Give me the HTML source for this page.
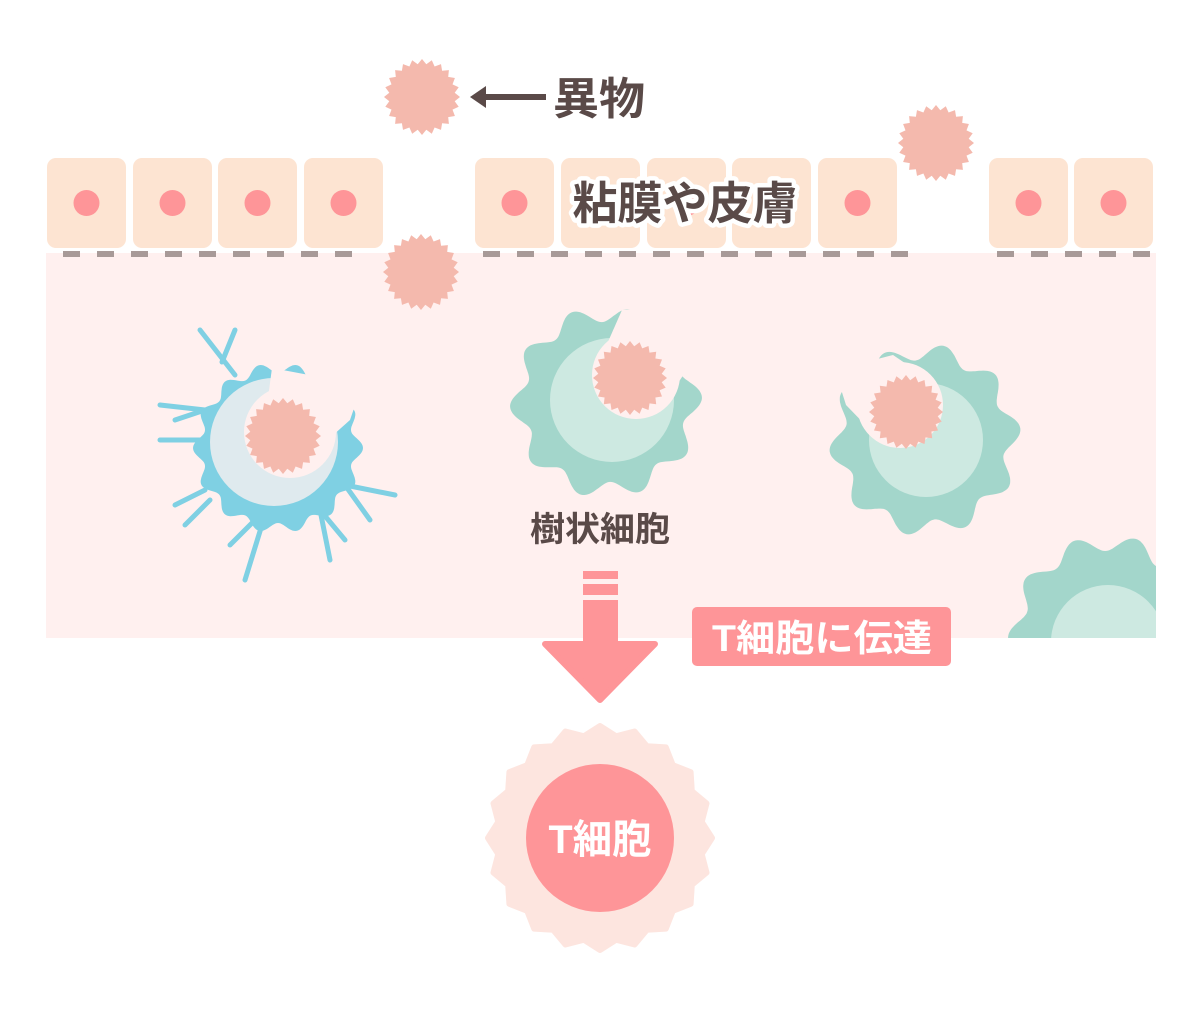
<!DOCTYPE html>
<html><head><meta charset="utf-8"><style>
html,body{margin:0;padding:0;background:#fff;}
svg{display:block;}
text{font-family:"Liberation Sans","Noto Sans CJK JP",sans-serif;font-weight:bold;}
</style></head><body>
<svg id="s" width="1200" height="1012" viewBox="0 0 1200 1012" xmlns="http://www.w3.org/2000/svg">
<rect x="46" y="253" width="1110" height="385" fill="#fff0ef"/>
<g id="cells"></g>
<g id="dyn"></g>
<line x1="482" y1="97" x2="546" y2="97" stroke="#5a4a48" stroke-width="6"/>
<polygon points="470,97 486,86 486,108" fill="#5a4a48"/>
<text x="553" y="114" font-size="44" fill="#5a4a48" textLength="92" lengthAdjust="spacingAndGlyphs">異物</text>
<text x="685" y="219" font-size="45" text-anchor="middle" fill="#5a4a48" stroke="#fff" stroke-width="9" paint-order="stroke" stroke-linejoin="round" textLength="225" lengthAdjust="spacingAndGlyphs">粘膜や皮膚</text>
<text x="600" y="541" font-size="34" text-anchor="middle" fill="#5a4a48" textLength="140" lengthAdjust="spacingAndGlyphs">樹状細胞</text>
<rect x="583" y="571" width="35" height="8" fill="#fe9598"/>
<rect x="583" y="584" width="35" height="11" fill="#fe9598"/>
<rect x="583" y="600" width="35" height="45" fill="#fe9598"/>
<polygon points="545,644 655,644 600,700" fill="#fe9598" stroke="#fe9598" stroke-width="6" stroke-linejoin="round"/>
<rect x="692" y="607" width="259" height="59" rx="5" fill="#fe9598"/>
<text x="822" y="651" font-size="37" text-anchor="middle" fill="#fff" textLength="220" lengthAdjust="spacingAndGlyphs">T細胞に伝達</text>
<g id="tcell"></g>
<text x="600" y="853" font-size="40" text-anchor="middle" fill="#fff" textLength="103" lengthAdjust="spacingAndGlyphs">T細胞</text>
</svg>
<script>
const NS="http://www.w3.org/2000/svg";
function el(p,t,a){const e=document.createElementNS(NS,t);for(const k in a)e.setAttribute(k,a[k]);p.appendChild(e);return e;}
const cells=document.getElementById('cells');
[47,133,218,304,475,561,647,732,818,989,1074].forEach(x=>{
 el(cells,'rect',{x:x,y:158,width:79,height:90,rx:9,fill:'#fde4d2'});
 el(cells,'circle',{cx:x+39.5,cy:203,r:13,fill:'#fe9598'});
});
[[63,360],[483,910],[997,1150]].forEach(([a,b])=>{
 for(let x=a;x+16<=b+2;x+=34) el(cells,'rect',{x:x,y:251,width:17,height:6,fill:'#a89a98'});
});
const d=document.getElementById('dyn');
function spiky(cx,cy,r,n,amp,off){let p=[];const N=n*2;for(let i=0;i<N;i++){const a=i/N*2*Math.PI+(off||0);const rr=i%2?r-amp:r;p.push((cx+rr*Math.cos(a)).toFixed(1)+','+(cy+rr*Math.sin(a)).toFixed(1));}return p.join(' ');}
function wavy(cx,cy,r,n,amp,off){let s='';for(let i=0;i<=360;i++){const a=i/360*2*Math.PI;const rr=r+amp*Math.cos(n*a+(off||0));s+=(i?'L':'M')+(cx+rr*Math.cos(a)).toFixed(1)+','+(cy+rr*Math.sin(a)).toFixed(1);}return s+'Z';}
const P='#f4b9ad',BG='#fff0ef',T='#a3d6cb',TL='#cde9e1';
[[422,97],[936,143],[421,272]].forEach(([x,y])=>el(d,'polygon',{points:spiky(x,y,38,24,5),fill:P}));
el(d,'path',{d:wavy(606,402,88,10,8,0.5),fill:T});
el(d,'circle',{cx:612,cy:400,r:62,fill:TL});
el(d,'circle',{cx:636,cy:375,r:44,fill:BG});
el(d,'polygon',{points:'600,360 622,310 700,300 700,350 670,395',fill:BG});
el(d,'polygon',{points:spiky(630,378,37,24,5),fill:P});
el(d,'path',{d:wavy(925,440,88,10,8,1.2),fill:T});
el(d,'circle',{cx:926,cy:440,r:57,fill:TL});
el(d,'circle',{cx:900,cy:405,r:43,fill:BG});
el(d,'polygon',{points:'846,405 835,370 893,355 930,380 880,440',fill:BG});
el(d,'polygon',{points:spiky(906,412,37,24,5),fill:P});
const g=el(d,'g',{});
const cp=el(d,'clipPath',{id:'cp'});el(cp,'rect',{x:46,y:253,width:1110,height:385});
g.setAttribute('clip-path','url(#cp)');
el(g,'path',{d:wavy(1108,635,92,10,8,0.3),fill:T});
el(g,'circle',{cx:1108,cy:642,r:57,fill:TL});
const B='#7fd0e3',BL='#dfeaee';
const br=[[235,375,200,330],[222,362,235,330],[205,410,160,405],[205,410,175,420],[200,440,160,440],[205,490,175,505],[210,500,185,525],[265,515,245,580],[255,520,230,545],[320,510,330,560],[320,510,345,540],[345,485,395,495],[345,485,370,520]];
br.forEach(b=>el(d,'line',{x1:b[0],y1:b[1],x2:b[2],y2:b[3],stroke:B,'stroke-width':5,'stroke-linecap':'round'}));
el(d,'path',{d:wavy(278,448,80,14,5,0),fill:B});
el(d,'circle',{cx:274,cy:442,r:64,fill:BL});
el(d,'circle',{cx:290,cy:432,r:46,fill:BG});
el(d,'polygon',{points:'268,398 272,368 362,385 350,420 322,445',fill:BG});
el(d,'polygon',{points:spiky(283,436,38,24,5),fill:P});
const t=document.getElementById('tcell');
el(t,'polygon',{points:spiky(600,838,112,20,9,-Math.PI/2),fill:'#fde5df','stroke':'#fde5df','stroke-width':6,'stroke-linejoin':'round'});
el(t,'circle',{cx:600,cy:838,r:74,fill:'#fe9598'});
</script>
</body></html>
